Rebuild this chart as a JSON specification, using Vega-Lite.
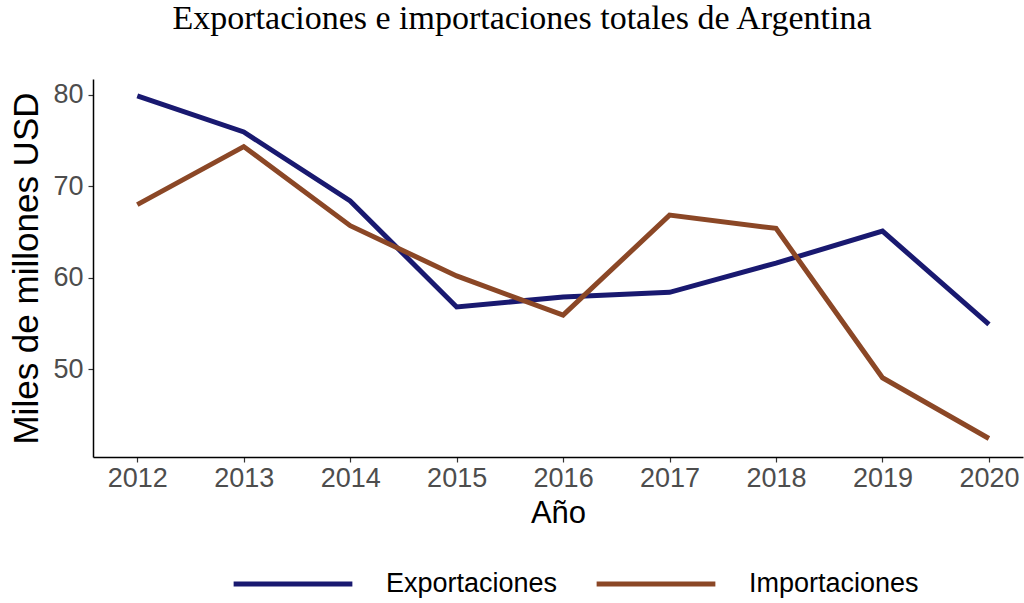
{
  "$schema": "https://vega.github.io/schema/vega-lite/v6.json",
  "width": 930,
  "height": 378,
  "autosize": {"type": "none"},
  "padding": {"left": 93, "top": 79, "right": 1, "bottom": 146},
  "background": "white",
  "title": {
    "text": "Exportaciones e importaciones totales de Argentina",
    "font": "Liberation Serif",
    "fontSize": 34,
    "fontWeight": "normal",
    "color": "black",
    "anchor": "middle",
    "frame": "group",
    "baseline": "alphabetic",
    "offset": 16,
    "dx": -36
  },
  "data": {
    "values": [
      {"year": 2012, "serie": "Exportaciones", "value": 79.9},
      {"year": 2013, "serie": "Exportaciones", "value": 75.95},
      {"year": 2014, "serie": "Exportaciones", "value": 68.4},
      {"year": 2015, "serie": "Exportaciones", "value": 56.8},
      {"year": 2016, "serie": "Exportaciones", "value": 57.9},
      {"year": 2017, "serie": "Exportaciones", "value": 58.4},
      {"year": 2018, "serie": "Exportaciones", "value": 61.6},
      {"year": 2019, "serie": "Exportaciones", "value": 65.1},
      {"year": 2020, "serie": "Exportaciones", "value": 54.9},
      {"year": 2012, "serie": "Importaciones", "value": 68.0},
      {"year": 2013, "serie": "Importaciones", "value": 74.35},
      {"year": 2014, "serie": "Importaciones", "value": 65.7},
      {"year": 2015, "serie": "Importaciones", "value": 60.2},
      {"year": 2016, "serie": "Importaciones", "value": 55.9},
      {"year": 2017, "serie": "Importaciones", "value": 66.85},
      {"year": 2018, "serie": "Importaciones", "value": 65.4},
      {"year": 2019, "serie": "Importaciones", "value": 49.05},
      {"year": 2020, "serie": "Importaciones", "value": 42.4}
    ]
  },
  "mark": {"type": "line", "strokeWidth": 5, "strokeCap": "butt"},
  "encoding": {
    "x": {
      "field": "year",
      "type": "quantitative",
      "scale": {"domain": [2011.584, 2020.32], "nice": false, "zero": false},
      "axis": {
        "values": [2012, 2013, 2014, 2015, 2016, 2017, 2018, 2019, 2020],
        "format": "d",
        "title": "Año",
        "grid": false,
        "domainColor": "black",
        "domainWidth": 1.5,
        "tickColor": "#333333",
        "tickWidth": 1.2,
        "tickSize": 5,
        "labelFont": "Liberation Sans",
        "labelFontSize": 27,
        "labelColor": "#4d4d4d",
        "labelPadding": 3,
        "labelFlush": false,
        "titleFont": "Liberation Sans",
        "titleFontSize": 31,
        "titleFontWeight": "normal",
        "titleColor": "black",
        "titlePadding": 7
      }
    },
    "y": {
      "field": "value",
      "type": "quantitative",
      "scale": {"domain": [40.38, 81.75], "nice": false, "zero": false},
      "axis": {
        "values": [50, 60, 70, 80],
        "title": "Miles de millones USD",
        "grid": false,
        "domainColor": "black",
        "domainWidth": 1.5,
        "tickColor": "#333333",
        "tickWidth": 1.2,
        "tickSize": 5,
        "labelFont": "Liberation Sans",
        "labelFontSize": 27,
        "labelColor": "#4d4d4d",
        "labelPadding": 5,
        "labelFlush": false,
        "titleFont": "Liberation Sans",
        "titleFontSize": 35,
        "titleFontWeight": "normal",
        "titleColor": "black",
        "titlePadding": 8
      }
    },
    "color": {
      "field": "serie",
      "type": "nominal",
      "scale": {"domain": ["Exportaciones", "Importaciones"], "range": ["#191970", "#8B4726"]},
      "legend": {
        "title": null,
        "orient": "none",
        "direction": "horizontal",
        "legendX": 138,
        "legendY": 443,
        "symbolType": "stroke",
        "symbolSize": 14100,
        "symbolStrokeWidth": 5,
        "labelFont": "Liberation Sans",
        "labelFontSize": 27,
        "labelColor": "black",
        "labelOffset": 31,
        "columnPadding": 28,
        "labelLimit": 400
      }
    }
  },
  "config": {"view": {"stroke": null}}
}
